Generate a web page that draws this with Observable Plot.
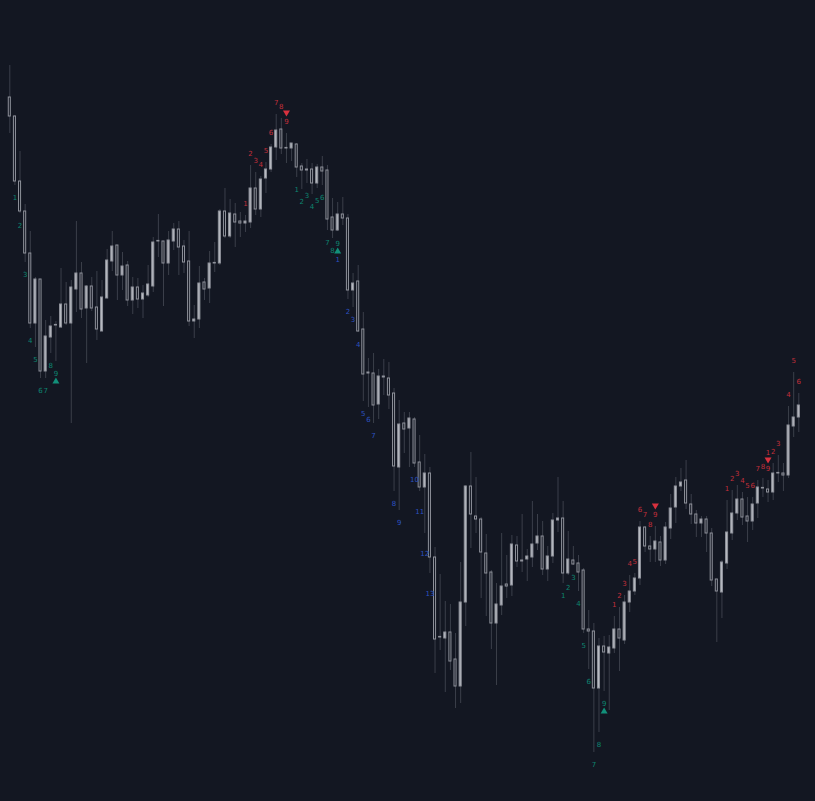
<!DOCTYPE html>
<html>
<head>
<meta charset="utf-8">
<script src="https://cdn.jsdelivr.net/npm/d3@7"></script>
<script src="https://cdn.jsdelivr.net/npm/@observablehq/plot@0.6"></script>
<style>
  html, body { margin: 0; padding: 0; background: #131722; }
  #chart svg { display: block; }
</style>
</head>
<body>
<div id="chart"></div>
<script>
// OHLC values (price units) for 155 bars
const open = [703,684,619,589,547,477,521,429,463,475,
  473,496,477,511,527,492,514,493,469,502,
  539,555,525,535,500,513,501,505,514,559,
  559,537,559,571,554,539,479,481,518,512,
  537,537,589,564,586,579,577,578,612,591,
  622,631,653,671,652,652,656,634,631,631,
  617,633,630,583,570,586,582,510,519,471,
  428,427,396,423,422,407,333,377,372,381,
  338,313,327,243,163,162,168,141,114,198,
  314,284,281,247,228,177,195,216,215,255,
  240,241,243,257,264,231,244,280,282,227,
  240,237,230,171,169,112,154,147,152,171,
  160,198,209,222,273,254,251,258,240,272,
  293,314,320,296,286,277,281,267,221,208,
  237,267,287,301,284,279,297,312,311,308,
  327,327,325,374,383];
const close = [684,619,589,547,477,521,429,464,474,475,
  496,477,513,527,491,514,492,471,503,540,
  554,525,534,500,513,501,507,516,558,559,
  537,560,571,553,538,479,481,517,511,537,
  537,589,564,587,578,577,579,612,591,621,
  631,653,670,652,652,657,633,630,630,617,
  633,629,581,570,586,582,510,517,469,426,
  427,395,424,424,405,334,376,371,382,337,
  313,327,243,161,163,168,139,114,198,314,
  286,281,248,227,177,196,214,214,256,239,
  239,244,256,264,231,244,280,282,227,241,
  236,228,171,169,112,154,148,153,171,162,
  198,209,222,273,254,251,259,240,273,292,
  314,318,297,286,277,281,267,220,209,238,
  268,287,301,283,279,296,313,312,308,327,
  327,325,375,383,395];
const high = [735,685,649,596,569,523,521,480,484,479,
  532,518,520,579,538,515,523,529,520,551,
  569,555,548,539,523,522,515,535,563,586,
  559,569,577,579,560,569,495,534,522,549,
  558,591,612,601,597,588,585,635,628,624,
  638,656,686,682,667,657,657,637,641,637,
  636,644,635,602,598,603,586,527,535,488,
  442,447,431,441,438,412,400,388,388,383,
  365,346,333,253,226,199,196,167,238,315,
  348,323,283,266,230,217,267,245,265,264,
  286,251,299,286,279,254,287,323,299,269,
  254,245,232,190,177,162,164,165,184,193,
  205,225,227,279,274,264,274,264,278,306,
  323,332,340,306,290,284,284,272,221,240,
  300,310,315,308,303,303,320,322,320,337,
  345,337,394,428,407];
const low = [667,615,587,538,472,453,422,422,447,439,
  472,475,377,488,482,437,489,460,469,502,
  529,500,510,494,486,492,482,503,508,543,
  494,525,550,525,527,474,462,472,500,497,
  528,535,562,562,553,563,568,572,585,583,
  607,628,640,646,637,639,623,611,617,606,
  612,615,570,562,569,575,501,493,468,399,
  393,377,381,405,391,309,290,347,333,333,
  309,267,227,127,150,108,130,92,97,174,
  252,267,202,184,151,115,185,202,204,233,
  228,219,233,250,225,219,237,268,217,225,
  235,209,167,131,48,68,109,90,147,129,
  156,188,205,215,248,238,238,234,236,261,
  277,309,291,276,263,263,248,214,158,182,
  231,260,280,275,258,270,282,303,298,300,
  318,309,322,363,368];

// TD Sequential annotations (bar indices, 0-based)
const buySetupStarts = [1, 56, 108];     // counts 1..9, perfected at 9
const sellSetupStarts = [46, 118, 140];  // counts 1..9, perfected at 9
const buyCountdownBars = [64,66,67,68,69,70,71,75,76,79,80,81,82]; // counts 1..13
const sellCountdownBars = [148,149,150,152,153,154];               // counts 1..6

const candles = open.map((o, i) => ({i, open: o, close: close[i], high: high[i], low: low[i]}));
const bar = i => candles[i];

const bg = "#131722";
const wick = "#3b3f4a";
const upFill = "#b8bbc2";
const upStroke = "#8f929b";
const downStroke = "#8f929b";
const green = "#0d8570";
const red = "#c22f3b";
const blue = "#2c52c0";

const buySetup = [], sellSetup = [], buyTri = [], sellTri = [];
buySetupStarts.forEach(s => { for (let k = 0; k < 9; k++) buySetup.push({...bar(s + k), t: String(k + 1)}); buyTri.push(bar(s + 8)); });
sellSetupStarts.forEach(s => { for (let k = 0; k < 9; k++) sellSetup.push({...bar(s + k), t: String(k + 1)}); sellTri.push(bar(s + 8)); });
const buyNine = new Set(buyTri.map(d => d.i));
const sellNine = new Set(sellTri.map(d => d.i));
const buyCd = buyCountdownBars.map((b, k) => ({...bar(b), t: String(k + 1), row: buyNine.has(b) ? 2 : (k + 1 >= 11 ? 1 : 0)}));
const sellCd = sellCountdownBars.map((b, k) => ({...bar(b), t: String(k + 1), row: sellNine.has(b) ? 2 : 0}));

const txt = {fontSize: 7, fontFamily: "DejaVu Sans, sans-serif"};
const bodyY2 = d => (d.close === d.open ? d.open + 0.6 : d.close);

const marks = [
  Plot.ruleX(candles, {x: "i", y1: "low", y2: "high", stroke: wick, strokeWidth: 1}),
  Plot.barY(candles.filter(d => d.close >= d.open), {x: "i", y1: "open", y2: bodyY2, fill: upFill, stroke: upStroke, strokeWidth: 1}),
  Plot.barY(candles.filter(d => d.close < d.open), {x: "i", y1: "open", y2: "close", fill: bg, stroke: downStroke, strokeWidth: 1}),
  Plot.text(buySetup, {x: "i", y: "low", text: "t", dy: 12, fill: green, ...txt}),
  Plot.text(sellSetup, {x: "i", y: "high", text: "t", dy: -12, fill: red, ...txt}),
  Plot.dot(buyTri, {x: "i", y: "low", dy: 20, symbol: "triangle", r: 2.6, fill: "#12907a", stroke: "none"}),
  Plot.dot(sellTri, {x: "i", y: "high", dy: -21, symbol: "triangle", r: 2.6, rotate: 180, fill: "#d8313e", stroke: "none"})
];
[0, 1, 2].forEach(r => {
  marks.push(Plot.text(buyCd.filter(d => d.row === r), {x: "i", y: "low", text: "t", dy: 12 + 8 * r, fill: blue, ...txt}));
  marks.push(Plot.text(sellCd.filter(d => d.row === r), {x: "i", y: "high", text: "t", dy: -12 - 8 * r, fill: red, ...txt}));
});

const chart = Plot.plot({
  width: 815,
  height: 801,
  marginTop: 0, marginBottom: 0, marginLeft: 5.2, marginRight: 12.6,
  style: {background: bg, overflow: "visible"},
  x: {type: "band", domain: d3.range(candles.length), padding: 0.6, round: false, axis: null},
  y: {domain: [0, 800], range: [800, 0], axis: null},
  marks
});
document.getElementById("chart").appendChild(chart);
</script>
</body>
</html>
